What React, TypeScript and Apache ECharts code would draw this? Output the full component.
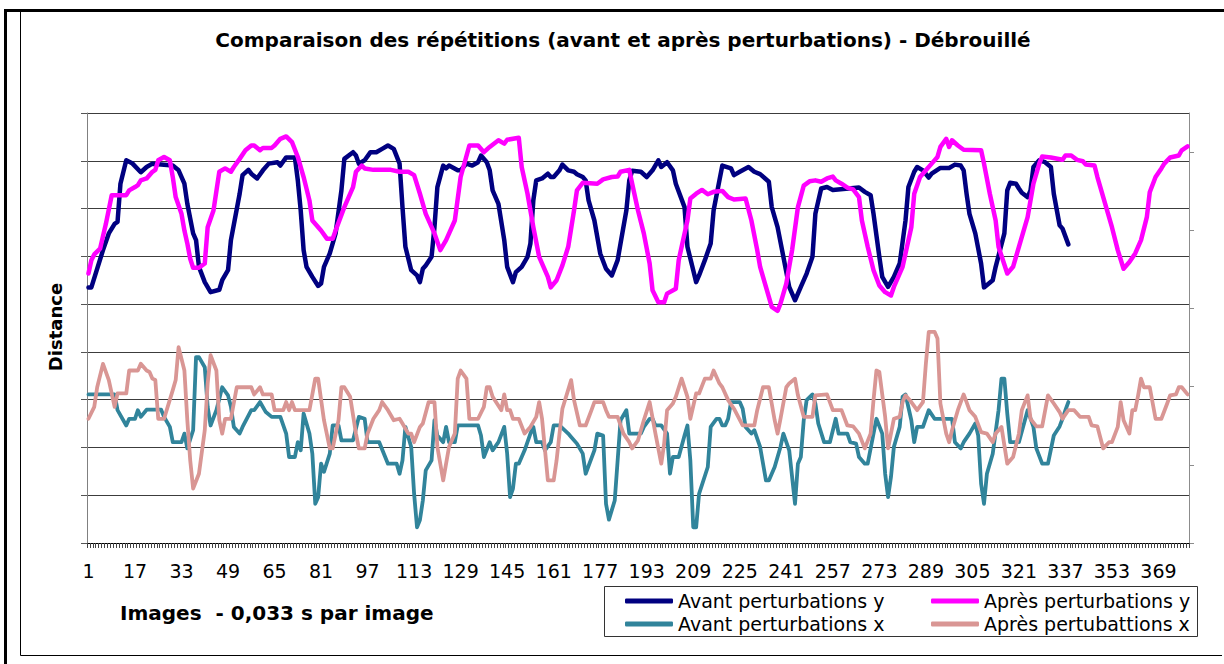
import React, { useEffect, useRef } from "react";
import * as echarts from "echarts";

// Image (frame) numbers on the category axis
const FRAME_COUNT = 379;
const frames: string[] = Array.from({ length: FRAME_COUNT }, (_, i) => String(i + 1));

// [frame, distance] vertices (unit = one grid division)
const avantY: [number, number][] = [
  [1,5.35],[2,5.35],[6,6.13],[8,6.48],[10,6.68],[11,6.72],[12,7.52],[14,8.01],[16,7.95],[19,7.76],[21,7.87],[23,7.94],[30,7.90],[32,7.80],[34,7.52],[35,7.10],[37,6.48],[38,6.34],[39,5.78],[41,5.46],[43,5.25],[46,5.30],[47,5.50],[49,5.71],[50,6.34],[53,7.31],[54,7.70],[56,7.81],[57,7.73],[59,7.63],[61,7.80],[63,7.94],[66,7.97],[67,7.90],[69,8.07],[72,8.07],[73,7.59],[74,6.96],[75,6.13],[76,5.78],[78,5.57],[80,5.38],[81,5.43],[82,5.78],[84,6.06],[86,6.48],[88,7.38],[89,8.04],[92,8.18],[93,8.11],[94,7.94],[96,8.01],[98,8.18],[100,8.18],[102,8.25],[104,8.32],[106,8.25],[108,7.94],[109,7.03],[110,6.20],[112,5.71],[114,5.60],[115,5.46],[116,5.74],[117,5.81],[119,5.99],[120,6.61],[121,7.45],[123,7.90],[124,7.84],[125,7.90],[128,7.80],[129,7.80],[131,7.94],[133,7.90],[135,7.97],[136,8.11],[138,7.97],[139,7.80],[140,7.38],[142,7.10],[144,6.34],[145,5.78],[147,5.46],[148,5.67],[150,5.78],[152,5.99],[153,6.27],[154,7.17],[155,7.59],[157,7.63],[159,7.73],[160,7.66],[161,7.66],[163,7.80],[164,7.92],[166,7.80],[168,7.77],[169,7.72],[171,7.66],[172,7.59],[173,7.17],[175,6.75],[177,6.06],[179,5.74],[181,5.60],[183,5.92],[184,6.27],[186,6.96],[187,7.59],[188,7.79],[191,7.77],[193,7.66],[195,7.80],[197,8.01],[198,7.87],[200,7.97],[202,7.80],[203,7.52],[206,7.03],[207,6.20],[209,5.71],[210,5.46],[211,5.60],[213,5.92],[215,6.27],[216,6.96],[218,7.59],[219,7.90],[222,7.84],[223,7.70],[225,7.77],[228,7.87],[230,7.77],[232,7.72],[235,7.56],[236,7.03],[238,6.61],[240,5.99],[242,5.36],[244,5.08],[246,5.36],[248,5.64],[250,5.99],[251,6.89],[253,7.42],[255,7.45],[257,7.39],[266,7.44],[268,7.35],[270,7.28],[271,6.89],[273,5.99],[274,5.57],[276,5.36],[278,5.57],[280,5.85],[282,6.75],[283,7.45],[285,7.77],[286,7.87],[288,7.80],[290,7.65],[291,7.73],[294,7.85],[297,7.85],[299,7.92],[301,7.90],[302,7.80],[303,7.31],[304,6.89],[306,6.48],[308,5.85],[309,5.35],[312,5.50],[313,5.78],[316,6.48],[317,7.38],[318,7.54],[320,7.52],[321,7.42],[322,7.33],[324,7.24],[325,7.38],[326,7.87],[328,8.01],[330,7.97],[332,7.87],[333,7.31],[335,6.65],[336,6.58],[338,6.25]
];

const apresY: [number, number][] = [
  [1,5.64],[2,5.92],[3,6.04],[5,6.16],[7,6.68],[9,7.28],[14,7.28],[15,7.38],[17,7.45],[18,7.49],[19,7.59],[21,7.63],[23,7.77],[24,7.81],[25,8.01],[27,8.08],[29,8.01],[30,7.66],[31,7.24],[33,6.89],[34,6.54],[35,6.27],[36,5.95],[37,5.76],[39,5.76],[41,5.85],[42,6.61],[44,6.96],[46,7.77],[48,7.84],[50,7.77],[51,7.87],[53,8.04],[55,8.22],[57,8.32],[58,8.32],[60,8.22],[61,8.27],[64,8.27],[65,8.32],[67,8.46],[69,8.51],[71,8.39],[73,8.08],[75,7.66],[77,7.17],[78,6.75],[81,6.54],[83,6.37],[85,6.37],[86,6.54],[89,7.03],[92,7.45],[93,7.77],[95,7.90],[96,7.84],[99,7.81],[105,7.81],[108,7.77],[111,7.77],[113,7.70],[115,7.31],[117,6.89],[120,6.48],[122,6.13],[124,6.34],[127,6.75],[129,7.66],[132,8.32],[135,8.32],[137,8.18],[139,8.29],[142,8.43],[144,8.36],[145,8.44],[149,8.48],[150,7.87],[152,7.31],[154,6.61],[156,5.99],[159,5.57],[160,5.35],[162,5.50],[164,5.81],[166,6.20],[168,6.96],[169,7.38],[171,7.54],[176,7.52],[178,7.61],[181,7.66],[183,7.67],[184,7.77],[187,7.81],[188,7.52],[190,6.96],[192,6.48],[194,5.85],[195,5.29],[197,5.04],[199,5.04],[200,5.22],[203,5.32],[204,5.92],[207,6.75],[208,7.21],[210,7.31],[212,7.39],[214,7.30],[216,7.35],[219,7.37],[221,7.24],[223,7.19],[227,7.21],[229,6.75],[231,6.13],[232,5.78],[234,5.36],[236,4.94],[238,4.86],[239,5.01],[241,5.43],[243,6.13],[245,7.03],[247,7.48],[249,7.57],[251,7.59],[253,7.56],[255,7.63],[257,7.67],[258,7.59],[260,7.52],[262,7.44],[264,7.40],[266,7.24],[267,6.75],[269,6.20],[271,5.71],[273,5.39],[275,5.25],[277,5.18],[278,5.36],[281,5.78],[282,6.06],[284,6.61],[285,7.31],[287,7.66],[289,7.80],[291,7.94],[293,8.08],[294,8.29],[296,8.46],[297,8.29],[298,8.43],[300,8.32],[302,8.23],[308,8.22],[309,7.94],[311,7.31],[313,6.75],[314,6.20],[317,5.64],[319,5.78],[321,6.20],[324,6.82],[326,7.52],[328,7.94],[329,8.09],[332,8.07],[336,8.02],[337,8.11],[339,8.11],[341,8.02],[343,7.99],[344,7.92],[347,7.90],[348,7.66],[349,7.45],[351,7.03],[353,6.61],[355,6.13],[357,5.74],[359,5.88],[361,6.06],[363,6.34],[365,6.82],[366,7.34],[368,7.66],[370,7.84],[371,7.94],[373,8.07],[376,8.11],[377,8.22],[379,8.30]
];

const avantX: [number, number][] = [
  [1,3.11],[10,3.11],[11,2.78],[14,2.46],[15,2.60],[17,2.60],[18,2.78],[19,2.64],[21,2.79],[26,2.79],[27,2.64],[29,2.43],[30,2.11],[33,2.11],[34,2.29],[35,1.98],[37,2.36],[38,3.89],[39,3.89],[41,3.68],[42,2.85],[43,2.46],[45,2.78],[47,3.26],[49,3.09],[50,2.85],[51,2.43],[53,2.29],[54,2.43],[57,2.78],[58,2.78],[60,2.95],[62,2.74],[64,2.64],[67,2.64],[69,2.29],[70,1.80],[72,1.80],[73,2.11],[74,1.94],[75,2.71],[77,2.29],[78,1.87],[79,0.82],[80,0.96],[81,1.66],[82,1.49],[84,1.87],[85,2.46],[87,2.46],[88,2.15],[92,2.15],[94,2.64],[96,2.60],[97,2.11],[101,2.11],[104,1.66],[107,1.66],[108,1.45],[109,1.73],[110,2.43],[112,2.01],[113,1.03],[114,0.33],[115,0.48],[116,0.89],[117,1.52],[119,1.73],[120,2.57],[121,2.25],[123,2.11],[124,2.43],[125,2.11],[127,2.11],[128,2.46],[135,2.46],[136,2.25],[137,1.80],[139,2.11],[140,1.94],[142,2.11],[144,2.43],[145,1.87],[146,0.96],[147,1.14],[148,1.66],[149,1.66],[151,1.94],[153,2.29],[154,2.43],[155,2.11],[157,2.11],[158,1.94],[160,2.11],[161,2.46],[163,2.46],[166,2.29],[167,2.22],[169,2.08],[171,1.87],[172,1.45],[175,1.94],[176,2.29],[178,2.25],[179,0.82],[180,0.49],[182,0.89],[183,1.73],[184,2.57],[186,2.78],[187,2.29],[191,2.29],[192,2.43],[194,2.60],[195,2.60],[196,2.46],[198,2.46],[200,2.29],[201,1.45],[202,1.80],[204,1.80],[206,2.25],[207,2.46],[208,1.73],[209,0.33],[210,0.33],[211,1.03],[214,1.59],[215,2.43],[217,2.60],[218,2.60],[219,2.46],[220,2.46],[221,2.60],[222,2.95],[225,2.95],[226,2.81],[227,2.43],[229,2.29],[230,2.36],[232,2.01],[234,1.31],[235,1.31],[237,1.59],[239,2.01],[240,2.29],[242,1.94],[243,1.38],[244,0.82],[245,1.66],[246,1.80],[247,2.57],[248,2.99],[250,3.11],[251,2.92],[252,2.50],[254,2.11],[256,2.11],[258,2.60],[259,2.29],[262,2.29],[263,2.11],[265,2.08],[266,1.80],[268,1.66],[269,1.66],[271,2.29],[272,2.60],[274,2.29],[275,1.45],[276,0.96],[277,1.38],[278,2.01],[280,2.43],[281,3.06],[282,3.11],[284,2.57],[285,2.11],[286,2.43],[288,2.43],[290,2.78],[292,2.60],[298,2.60],[299,2.11],[301,1.98],[302,2.11],[304,2.29],[306,2.50],[307,2.25],[308,1.24],[309,0.82],[310,1.45],[312,1.87],[314,2.78],[315,3.44],[316,3.44],[317,2.71],[318,2.11],[321,2.11],[324,2.78],[326,2.43],[327,1.98],[329,1.66],[331,1.66],[333,2.25],[335,2.44],[336,2.60],[337,2.78],[338,2.95]
];

const apresX: [number, number][] = [
  [1,2.60],[3,2.85],[4,3.26],[6,3.75],[8,3.41],[10,2.85],[11,3.13],[14,3.13],[15,3.61],[18,3.61],[19,3.75],[21,3.61],[22,3.58],[23,3.44],[24,3.41],[25,2.60],[27,2.60],[30,3.20],[31,3.41],[32,4.10],[34,3.61],[35,2.57],[36,1.73],[37,1.14],[39,1.45],[41,2.36],[42,3.34],[43,3.93],[45,3.61],[46,2.57],[47,2.29],[48,2.60],[50,2.60],[52,3.26],[57,3.26],[58,3.11],[60,3.26],[61,3.11],[64,3.11],[65,2.78],[68,2.78],[69,2.95],[70,2.78],[71,2.95],[72,2.78],[77,2.78],[79,3.44],[80,3.44],[82,2.57],[84,1.98],[85,1.98],[87,2.57],[88,3.26],[89,3.26],[91,3.06],[93,2.29],[94,1.98],[96,1.98],[97,2.29],[99,2.60],[101,2.78],[102,2.95],[104,2.78],[106,2.57],[108,2.60],[109,2.50],[111,2.29],[112,2.29],[113,2.11],[115,2.43],[116,2.50],[118,2.95],[120,2.95],[121,2.01],[123,1.31],[125,2.01],[127,2.29],[128,3.44],[129,3.61],[131,3.44],[132,2.60],[135,2.60],[137,2.85],[138,3.26],[139,3.26],[140,3.06],[143,2.78],[144,3.11],[145,2.78],[146,2.78],[147,2.60],[149,2.60],[151,2.29],[153,2.43],[155,2.64],[156,2.95],[157,2.60],[159,1.31],[161,1.31],[162,1.73],[163,2.29],[164,2.81],[167,3.41],[168,2.99],[170,2.46],[172,2.46],[174,2.78],[175,2.95],[178,2.95],[179,2.78],[180,2.64],[183,2.64],[185,2.29],[187,2.11],[188,1.98],[190,2.15],[192,2.57],[194,2.95],[196,2.29],[198,1.66],[199,2.08],[200,2.78],[202,2.92],[203,3.06],[205,3.44],[207,3.06],[208,2.60],[210,3.13],[211,3.13],[213,3.44],[215,3.44],[216,3.61],[218,3.34],[219,3.26],[221,2.99],[223,2.81],[226,2.46],[230,2.46],[231,2.78],[233,3.26],[235,3.26],[237,2.57],[238,2.29],[239,2.60],[241,3.26],[242,3.34],[244,3.44],[245,3.09],[247,2.64],[250,2.64],[251,3.09],[255,3.11],[257,2.78],[260,2.78],[262,2.46],[264,2.44],[266,2.29],[268,1.98],[270,2.29],[271,2.99],[272,3.61],[273,3.58],[275,2.64],[276,1.98],[278,2.60],[280,2.64],[281,2.95],[282,3.09],[284,2.95],[286,2.78],[288,2.95],[289,3.75],[290,4.42],[292,4.42],[293,4.28],[294,2.92],[296,2.29],[297,2.11],[298,2.36],[300,2.78],[302,3.11],[303,2.95],[304,2.78],[306,2.64],[308,2.32],[310,2.29],[312,2.11],[313,2.29],[315,2.43],[317,1.66],[319,1.80],[321,2.29],[322,2.78],[324,3.09],[325,2.60],[327,2.44],[329,2.44],[331,3.09],[333,2.92],[335,2.74],[336,2.60],[338,2.78],[340,2.78],[342,2.64],[345,2.64],[346,2.46],[348,2.44],[350,1.98],[352,2.11],[353,2.11],[355,2.43],[356,2.95],[357,2.57],[359,2.29],[360,2.78],[361,2.78],[362,3.09],[363,3.44],[364,3.26],[366,3.26],[368,2.60],[370,2.60],[372,2.92],[373,3.09],[375,3.11],[376,3.26],[377,3.26],[379,3.11]
];

const seriesNames = [
  "Avant perturbations y",
  "Après perturbations y",
  "Avant perturbations x",
  "Après pertubattions x",
];
const seriesColors = ["#000080", "#FF00FF", "#31849B", "#D99694"];
const seriesWidths = [4.5, 4.5, 3.8, 3.8];
const seriesData = [avantY, apresY, avantX, apresX];

const TITLE = "Comparaison des répétitions (avant et après perturbations) - Débrouillé";
const Y_NAME = "Distance";
const X_NAME = "Images  - 0,033 s par image";
const FONT = "DejaVu Sans";

export default function App() {
  const ref = useRef<HTMLDivElement>(null);

  useEffect(() => {
    if (!ref.current) return;
    const chart = echarts.init(ref.current, undefined, { renderer: "svg" });

    const series = seriesData.map((d, k) => ({
      name: seriesNames[k],
      type: "line",
      yAxisIndex: 0,
      data: d.map(([f, v]) => [f - 1, v]),
      symbol: "none",
      smooth: false,
      lineStyle: { color: seriesColors[k], width: seriesWidths[k], join: "round", cap: "round" },
      itemStyle: { color: seriesColors[k] },
      z: 2 + k,
    }));

    const legendBase = {
      orient: "vertical",
      top: 585,
      icon: "roundRect",
      itemWidth: 48,
      itemHeight: 5,
      itemGap: 1,
      textStyle: { fontSize: 19, color: "#000", fontFamily: FONT, lineHeight: 22 },
    };

    chart.setOption({
      animation: false,
      backgroundColor: "#ffffff",
      textStyle: { fontFamily: FONT },
      grid: { left: 87, right: 35, top: 113, bottom: 121, containLabel: false },
      xAxis: {
        type: "category",
        data: frames,
        boundaryGap: true,
        axisLine: { show: true, lineStyle: { color: "#000", width: 1 } },
        axisTick: { show: true, interval: 0, length: 5, lineStyle: { color: "#444", width: 1 } },
        axisLabel: { interval: 15, fontSize: 19, color: "#000", margin: 18, fontFamily: FONT },
        splitLine: { show: false },
      },
      yAxis: [
        {
          type: "value",
          min: 0,
          max: 9,
          interval: 1,
          position: "left",
          axisLine: { show: true, lineStyle: { color: "#808080", width: 1 } },
          axisTick: { show: true, length: 6, lineStyle: { color: "#555", width: 1 } },
          axisLabel: { show: false },
          splitLine: { show: true, lineStyle: { color: "#3c3c3c", width: 1 } },
        },
        {
          type: "value",
          min: 0,
          max: 5.5,
          interval: 1,
          position: "right",
          axisLine: { show: true, lineStyle: { color: "#8c8c8c", width: 1 } },
          axisTick: { show: true, length: 5, customValues: [0, 1, 2, 3, 4, 5], lineStyle: { color: "#8c8c8c" } },
          axisLabel: { show: false },
          splitLine: { show: false },
        },
      ],
      legend: [
        { ...legendBase, data: [seriesNames[0], seriesNames[2]], left: 620 },
        { ...legendBase, data: [seriesNames[1], seriesNames[3]], left: 926 },
      ],
      graphic: [
        { type: "rect", shape: { x: 4, y: 9, width: 1220, height: 3 }, style: { fill: "#000" }, silent: true },
        { type: "rect", shape: { x: 4, y: 9, width: 3, height: 655 }, style: { fill: "#000" }, silent: true },
        { type: "line", shape: { x1: 20.5, y1: 12, x2: 20.5, y2: 655.5 }, style: { stroke: "#000", lineWidth: 1 }, silent: true },
        { type: "line", shape: { x1: 20.5, y1: 655.5, x2: 1222, y2: 655.5 }, style: { stroke: "#000", lineWidth: 1 }, silent: true },
        {
          type: "text",
          x: 623,
          y: 40,
          style: { text: TITLE, fill: "#000", fontSize: 20, fontWeight: "bold", fontFamily: FONT, textAlign: "center", textVerticalAlign: "middle" },
          silent: true,
        },
        {
          type: "text",
          x: 55,
          y: 327,
          rotation: Math.PI / 2,
          style: { text: Y_NAME, fill: "#000", fontSize: 18, fontWeight: "bold", fontFamily: FONT, textAlign: "center", textVerticalAlign: "middle" },
          silent: true,
        },
        {
          type: "text",
          x: 120,
          y: 613,
          style: { text: X_NAME, fill: "#000", fontSize: 20, fontWeight: "bold", fontFamily: FONT, textAlign: "left", textVerticalAlign: "middle" },
          silent: true,
        },
        {
          type: "rect",
          shape: { x: 604.5, y: 586.5, width: 593, height: 50 },
          style: { fill: "none", stroke: "#333", lineWidth: 1 },
          silent: true,
        },
      ],
      series,
    });

    return () => chart.dispose();
  }, []);

  return (
    <div
      ref={ref}
      style={{ position: "fixed", left: 0, top: 0, width: 1224, height: 664, background: "#fff" }}
    />
  );
}
